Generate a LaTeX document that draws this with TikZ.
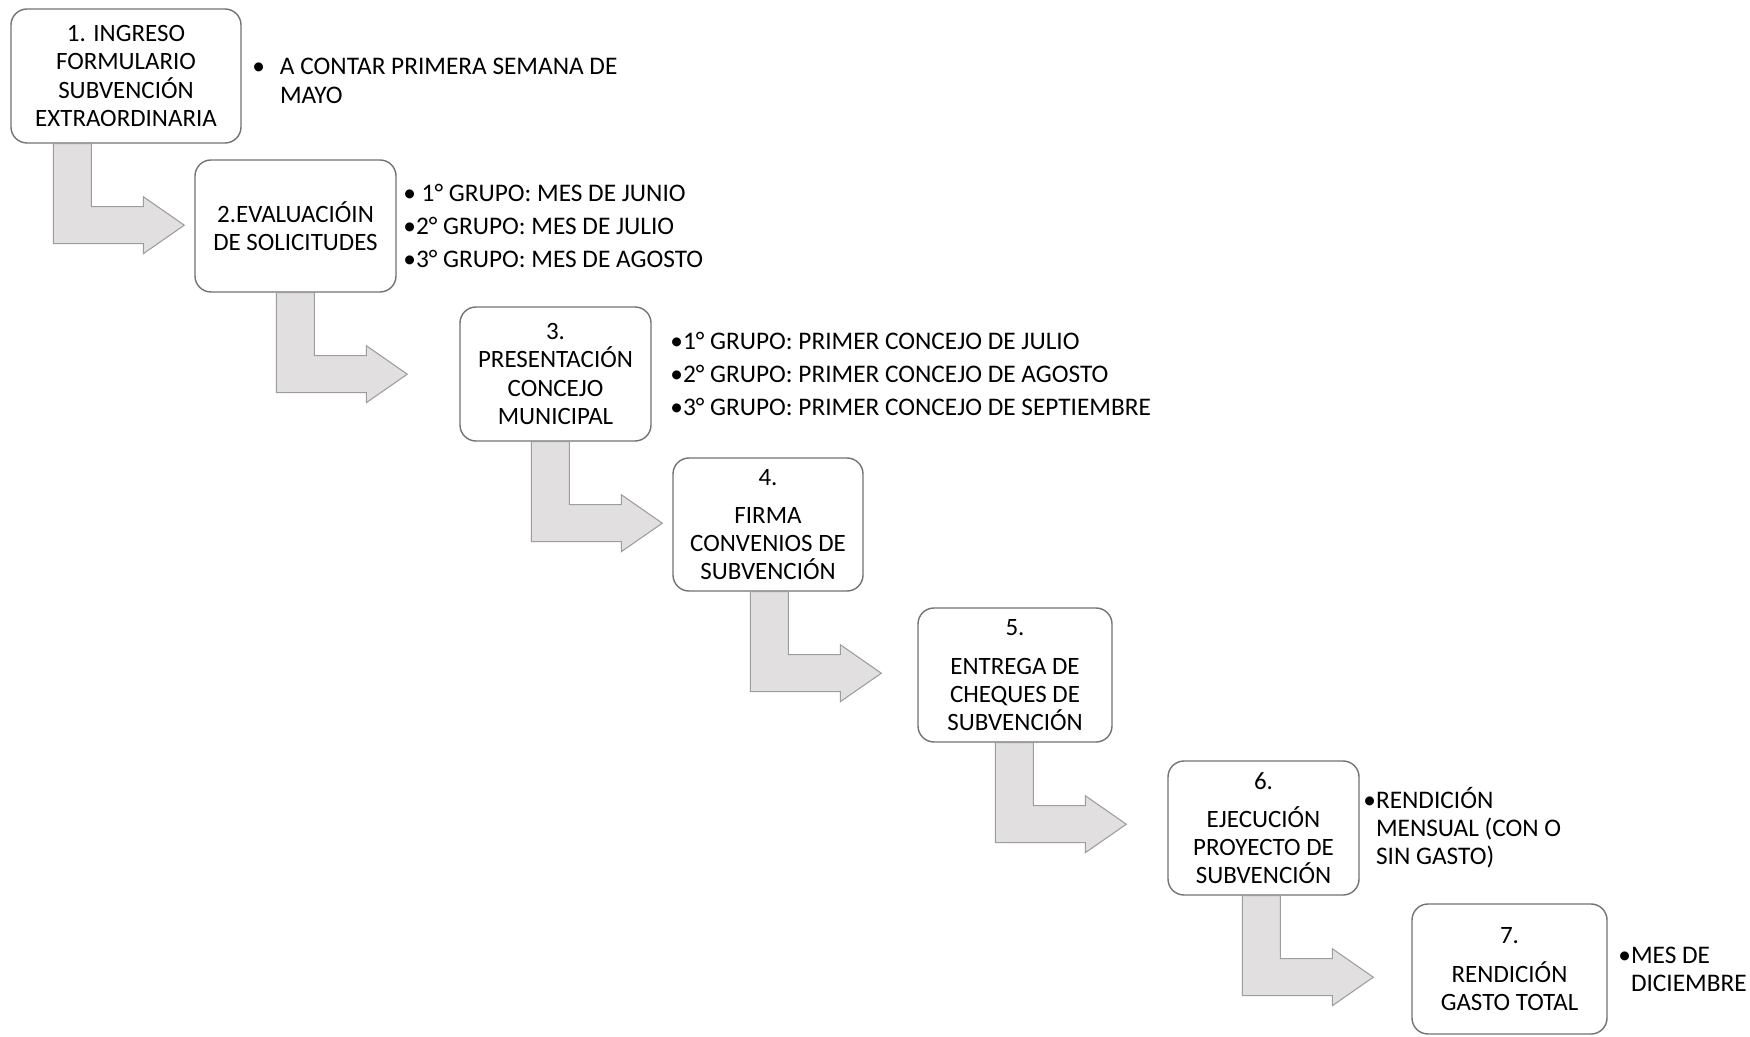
\documentclass[tikz,border=0pt]{standalone}
\usepackage{fontspec}
\setmainfont{Carlito}
\usetikzlibrary{calc}
\usetikzlibrary{positioning}

\definecolor{flechagris}{RGB}{226,223,224}
\definecolor{bordegris}{RGB}{115,115,115}

\tikzset{
  paso/.style={draw=bordegris, line width=0.4pt, rounded corners=0.16cm, fill=white,
    align=center, inner sep=0pt, font=\fontsize{7.1}{7.97}\selectfont},
  nota/.style={align=left, inner sep=0pt, font=\fontsize{7.2}{7.97}\selectfont},
  flecha/.style={fill=flechagris, draw=bordegris!70, line width=0.3pt},
}

\begin{document}
\begin{tikzpicture}

\useasboundingbox[fill=white] (0,0) rectangle (17.5,10.36);

% steps of the process
\node[paso, minimum width=2.30cm, minimum height=1.34cm] (b1) at (1.26, 9.60)
  {1. INGRESO\\FORMULARIO\\SUBVENCIÓN\\EXTRAORDINARIA};
\node[paso, minimum width=2.01cm, minimum height=1.32cm] (b2) at (2.955, 8.10)
  {2.EVALUACIÓIN\\DE SOLICITUDES};
\node[paso, minimum width=1.91cm, minimum height=1.34cm] (b3) at (5.555, 6.62)
  {3.\\PRESENTACIÓN\\CONCEJO\\MUNICIPAL};
\node[paso, minimum width=1.90cm, minimum height=1.33cm] (b4) at (7.68, 5.115)
  {4.\\[2.9pt]FIRMA\\CONVENIOS DE\\SUBVENCIÓN};
\node[paso, minimum width=1.94cm, minimum height=1.34cm] (b5) at (10.15, 3.61)
  {5.\\[2.9pt]ENTREGA DE\\CHEQUES DE\\SUBVENCIÓN};
\node[paso, minimum width=1.91cm, minimum height=1.34cm] (b6) at (12.635, 2.08)
  {6.\\[2.9pt]EJECUCIÓN\\PROYECTO DE\\SUBVENCIÓN};
\node[paso, minimum width=1.95cm, minimum height=1.30cm] (b7) at (15.095, 0.67)
  {7.\\[2.9pt]RENDICIÓN\\GASTO TOTAL};

% notes beside the steps
\node[nota, right=0.10cm of b1, yshift=-0.05cm] (n1)
  {•\hspace{0.15cm}A CONTAR PRIMERA SEMANA DE\\[0.5pt]\hphantom{•\hspace{0.15cm}}MAYO};
\node[nota, right=0.06cm of b2] (n2)
  {• 1° GRUPO: MES DE JUNIO\\[1.3pt]•2° GRUPO: MES DE JULIO\\[1.3pt]•3° GRUPO: MES DE AGOSTO};
\node[nota, right=0.18cm of b3] (n3)
  {•1° GRUPO: PRIMER CONCEJO DE JULIO\\[1.3pt]•2° GRUPO: PRIMER CONCEJO DE AGOSTO\\[1.3pt]•3° GRUPO: PRIMER CONCEJO DE SEPTIEMBRE};
\node[nota, right=0.03cm of b6] (n6)
  {•RENDICIÓN\\\hphantom{•}MENSUAL (CON O\\\hphantom{•}SIN GASTO)};
\node[nota, right=0.10cm of b7] (n7)
  {•MES DE\\\hphantom{•}DICIEMBRE};

% bent arrows from each step to the next
\foreach \src/\off in {b1/0.43, b2/0.82, b3/0.72, b4/0.78, b5/0.78, b6/0.75}
  \draw[flecha] ($(\src.south west)+(\off,0)$) -- ++(0.38,0) -- ++(0,-0.63)
    -- ++(0.52,0) -- ++(0,0.10) -- ++(0.41,-0.285) -- ++(-0.41,-0.285)
    -- ++(0,0.10) -- ++(-0.90,0) -- cycle;

\end{tikzpicture}
\end{document}
